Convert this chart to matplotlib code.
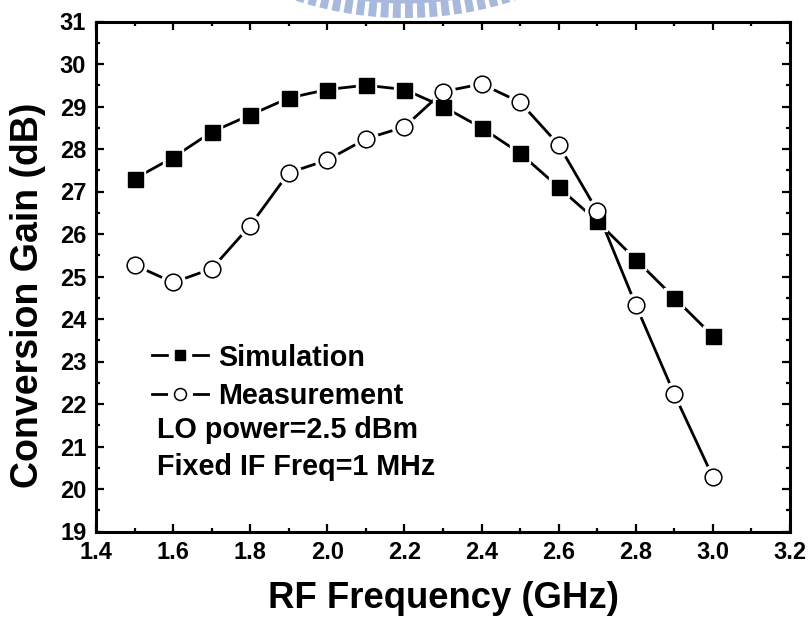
import matplotlib
matplotlib.use('Agg')
import matplotlib.pyplot as plt
from matplotlib.lines import Line2D
from matplotlib.patches import Wedge
from matplotlib.legend_handler import HandlerTuple
from matplotlib.ticker import MultipleLocator, FormatStrFormatter
import numpy as np

plt.rcParams['font.family'] = ['Liberation Sans', 'DejaVu Sans']
plt.rcParams['font.weight'] = 'bold'
plt.rcParams['axes.labelweight'] = 'bold'

# ---- data ----
freq_ghz = [1.5, 1.6, 1.7, 1.8, 1.9, 2.0, 2.1, 2.2, 2.3, 2.4, 2.5, 2.6, 2.7, 2.8, 2.9, 3.0]
sim_gain = [27.3, 27.8, 28.4, 28.8, 29.2, 29.4, 29.5, 29.4, 29.0, 28.5, 27.9, 27.1, 26.3, 25.4, 24.5, 23.6]
meas_gain = [25.27, 24.86, 25.18, 26.2, 27.44, 27.74, 28.24, 28.52, 29.35, 29.53, 29.1, 28.1, 26.54, 24.33, 22.23, 20.28]
series_labels = ['Simulation', 'Measurement']
note_lines = ['LO power=2.5 dBm', 'Fixed IF Freq=1 MHz']
x_label = 'RF Frequency (GHz)'
y_label = 'Conversion Gain (dB)'

W, H = 8.1, 6.26
fig = plt.figure(figsize=(W, H), dpi=100)
ax = fig.add_axes([96 / 810, (626 - 531.5) / 626, (790 - 96) / 810, (531.5 - 21.5) / 626])

# watermark (decorative, partially visible at top)
wm_color = '#A9B9DE'
cx, cy = 4.05, H + 3.36
for a in np.arange(-112, -68, 2.0):
    fig.add_artist(Wedge((cx, cy), 3.54, a, a + 1.3, width=0.15,
                         transform=fig.dpi_scale_trans, facecolor=wm_color,
                         edgecolor='none', zorder=0))
fig.add_artist(Wedge((cx, cy), 3.395, -112, -68, width=0.05,
                     transform=fig.dpi_scale_trans, facecolor=wm_color,
                     edgecolor='none', zorder=0))

lw = 2.0
# lines
ax.plot(freq_ghz, sim_gain, color='k', lw=lw, zorder=2)
ax.plot(freq_ghz, meas_gain, color='k', lw=lw, zorder=2)
# halos (gaps around markers)
ax.plot(freq_ghz, sim_gain, ls='none', marker='s', ms=15, mfc='white', mec='white', zorder=3)
ax.plot(freq_ghz, meas_gain, ls='none', marker='o', ms=17, mfc='white', mec='white', zorder=3)
# markers
ax.plot(freq_ghz, sim_gain, ls='none', marker='s', ms=10.8, mfc='k', mec='k', zorder=4)
ax.plot(freq_ghz, meas_gain, ls='none', marker='o', ms=12, mfc='white', mec='k', mew=1.1, zorder=5)

ax.set_xlim(1.4, 3.2)
ax.set_ylim(19, 31)
ax.xaxis.set_major_locator(MultipleLocator(0.2))
ax.xaxis.set_minor_locator(MultipleLocator(0.1))
ax.yaxis.set_major_locator(MultipleLocator(1))
ax.yaxis.set_minor_locator(MultipleLocator(0.5))
ax.xaxis.set_major_formatter(FormatStrFormatter('%.1f'))
ax.yaxis.set_major_formatter(FormatStrFormatter('%d'))

for s in ax.spines.values():
    s.set_linewidth(2.2)
ax.tick_params(which='both', direction='in', top=True, right=True, width=1.6)
ax.tick_params(which='major', length=5.5, labelsize=17, pad=7)
ax.tick_params(which='minor', length=3)

ax.set_xlabel(x_label, fontsize=26.3, labelpad=12)
ax.set_ylabel(y_label, fontsize=27, va='center', ha='center')
ax.yaxis.set_label_coords((28 - 96) / 694, (531.5 - 295) / 510)

# legend
sim_h = (Line2D([], [], color='k', lw=lw, marker='s', ms=16.5, mfc='white', mec='white'),
         Line2D([], [], ls='none', marker='s', ms=7.5, mfc='k', mec='k'))
meas_h = (Line2D([], [], color='k', lw=lw, marker='o', ms=17, mfc='white', mec='white'),
          Line2D([], [], ls='none', marker='o', ms=8.6, mfc='white', mec='k', mew=1.1))
ax.legend(handles=[sim_h, meas_h], labels=series_labels,
          handler_map={tuple: HandlerTuple(ndivide=1, pad=0)},
          loc='upper left', bbox_to_anchor=((152 - 96) / 694, (531.5 - 343.5) / 510),
          frameon=False, fontsize=20.7, handlelength=1.95, handletextpad=0.35,
          labelspacing=0.35, borderpad=0, borderaxespad=0)

for i, t in enumerate(note_lines):
    ax.text((157 - 96) / 694, (531.5 - (430 + 37 * i)) / 510, t, transform=ax.transAxes,
            fontsize=20.7, ha='left', va='center')

fig.savefig('out.png', dpi=100)
